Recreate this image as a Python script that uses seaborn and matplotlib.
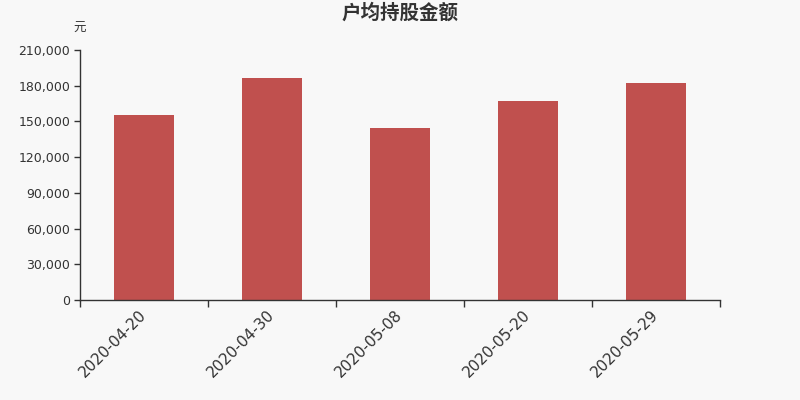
import numpy as np
import pandas as pd
import matplotlib
matplotlib.use('Agg')
import matplotlib.pyplot as plt
import seaborn as sns
from matplotlib.ticker import FuncFormatter, FixedLocator

dates = ['2020-04-20', '2020-04-30', '2020-05-08', '2020-05-20', '2020-05-29']
amounts = [155400, 186900, 144500, 167200, 182600]
yticks = [0, 30000, 60000, 90000, 120000, 150000, 180000, 210000]

sns.set_style('white')
plt.rcParams['font.family'] = ['DejaVu Sans', 'Noto Sans CJK SC']

bg = '#f8f8f8'
fig = plt.figure(figsize=(8, 4), dpi=100, facecolor=bg)
ax = fig.add_axes([0.1, 0.25, 0.8, 0.625], facecolor=bg)

df = pd.DataFrame({'date': dates, 'amount': amounts})
sns.barplot(data=df, x='date', y='amount', color='#c0504e', saturation=1,
            width=0.475, linewidth=0, ax=ax)

ax.set_xlim(-0.5, len(dates) - 0.5)
ax.set_ylim(0, 210000)
ax.set_yticks(yticks)
ax.yaxis.set_major_formatter(FuncFormatter(lambda v, p: f'{int(v):,}'))
ax.tick_params(axis='y', length=4, width=1, color='#333333', labelsize=9,
               labelcolor='#333333', pad=3, left=True)

ax.set_xticks(range(len(dates)))
ax.set_xticklabels(dates, rotation=45, ha='right', va='center',
                   rotation_mode='anchor', fontsize=11, color='#333333')
ax.tick_params(axis='x', which='major', length=0, pad=9, bottom=True)
ax.xaxis.set_minor_locator(FixedLocator(np.arange(-0.5, len(dates), 1)))
ax.tick_params(axis='x', which='minor', length=5, width=1, color='#333333', bottom=True)

ax.set_xlabel('')
ax.set_ylabel('')
for s in ['top', 'right']:
    ax.spines[s].set_visible(False)
for s in ['left', 'bottom']:
    ax.spines[s].set_color('#333333')
    ax.spines[s].set_linewidth(1)

fig.text(0.5, 0.967, '户均持股金额', ha='center', va='center', fontsize=14,
         fontweight='bold', color='#333333', family=['Noto Sans CJK SC', 'DejaVu Sans'])
fig.text(0.1, 0.928, '元', ha='center', va='center', fontsize=9, color='#333333',
         family=['Noto Sans CJK SC', 'DejaVu Sans'])

fig.savefig('out.png', dpi=100, facecolor=bg)
